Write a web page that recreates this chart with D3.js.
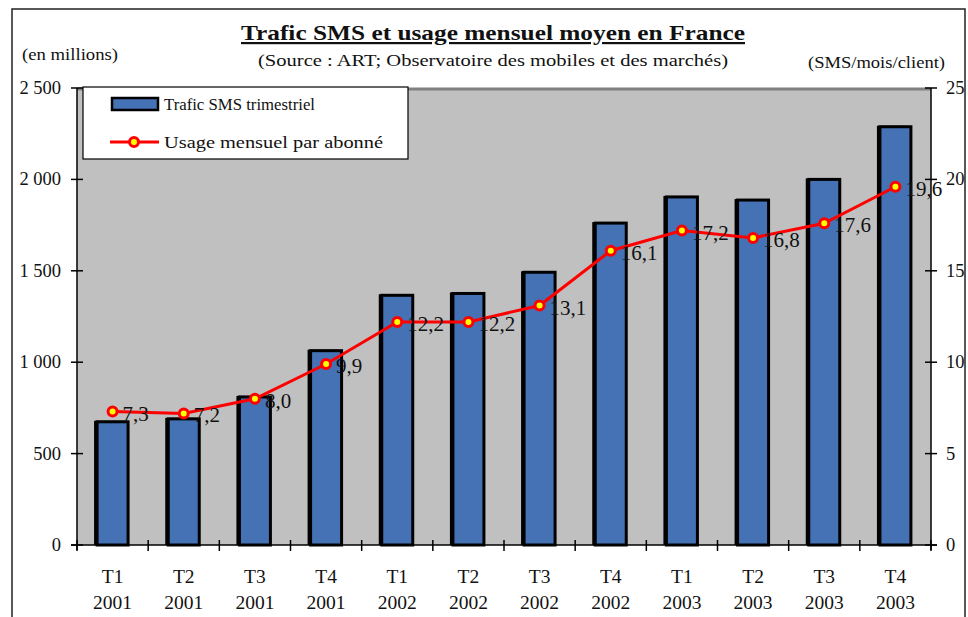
<!DOCTYPE html>
<html>
<head>
<meta charset="utf-8">
<script src="https://cdn.jsdelivr.net/npm/d3@7"></script>
<style>
  body { margin: 0; background: #fff; }
  svg text { fill: #111; }
</style>
</head>
<body>
<div id="chart"></div>
<script>
// Data
const quarters = ["T1", "T2", "T3", "T4", "T1", "T2", "T3", "T4", "T1", "T2", "T3", "T4"];
const years = ["2001", "2001", "2001", "2001", "2002", "2002", "2002", "2002", "2003", "2003", "2003", "2003"];
const smsTraffic = [674, 690, 810, 1063, 1366, 1376, 1492, 1761, 1904, 1887, 2000, 2288];
const monthlyUsage = [7.3, 7.2, 8.0, 9.9, 12.2, 12.2, 13.1, 16.1, 17.2, 16.8, 17.6, 19.6];
const leftTicks = [0, 500, 1000, 1500, 2000, 2500];
const rightTicks = [0, 5, 10, 15, 20, 25];

const W = 968, H = 617;
const plot = { left: 77, right: 931, top: 88, bottom: 545 };

const svg = d3.select("#chart").append("svg")
  .attr("width", W)
  .attr("height", H)
  .attr("font-family", "'Liberation Serif', 'Times New Roman', serif");

// outer frame (no bottom edge visible)
svg.append("path")
  .attr("d", `M12,${H} L12,9 L965,9 L965,${H}`)
  .attr("fill", "none")
  .attr("stroke", "#222")
  .attr("stroke-width", 1.5);

// Titles (stretched to the widths seen in the original)
svg.append("text")
  .attr("x", 241).attr("y", 40)
  .attr("font-size", 22).attr("font-weight", "bold")
  .attr("text-decoration", "underline")
  .attr("textLength", 504).attr("lengthAdjust", "spacingAndGlyphs")
  .text("Trafic SMS et usage mensuel moyen en France");

svg.append("text")
  .attr("x", 258).attr("y", 66)
  .attr("font-size", 17)
  .attr("textLength", 470).attr("lengthAdjust", "spacingAndGlyphs")
  .text("(Source : ART; Observatoire des mobiles et des marchés)");

svg.append("text")
  .attr("x", 22).attr("y", 60)
  .attr("font-size", 16)
  .attr("textLength", 96).attr("lengthAdjust", "spacingAndGlyphs")
  .text("(en millions)");

svg.append("text")
  .attr("x", 808).attr("y", 68)
  .attr("font-size", 16)
  .attr("textLength", 137).attr("lengthAdjust", "spacingAndGlyphs")
  .text("(SMS/mois/client)");

// Scales
const step = (plot.right - plot.left) / quarters.length;
const barW = 31;
const cx = i => plot.left + step * (i + 0.5);

const yLeft = d3.scaleLinear().domain([0, 2500]).range([plot.bottom, plot.top]);
const yRight = d3.scaleLinear().domain([0, 25]).range([plot.bottom, plot.top]);

// Plot area
svg.append("rect")
  .attr("x", plot.left).attr("y", plot.top)
  .attr("width", plot.right - plot.left)
  .attr("height", plot.bottom - plot.top)
  .attr("fill", "#c0c0c0");

svg.append("line")
  .attr("x1", plot.left).attr("x2", plot.right)
  .attr("y1", plot.top + 1).attr("y2", plot.top + 1)
  .attr("stroke", "#808080").attr("stroke-width", 3);

// Bars (with a dark shadow on the left)
svg.append("g").selectAll("rect.shadow")
  .data(smsTraffic)
  .join("rect")
  .attr("class", "shadow")
  .attr("x", (d, i) => cx(i) - barW / 2 - 3)
  .attr("y", d => yLeft(d) - 1)
  .attr("width", barW)
  .attr("height", d => plot.bottom - yLeft(d) + 1)
  .attr("fill", "#000");

svg.append("g").selectAll("rect.bar")
  .data(smsTraffic)
  .join("rect")
  .attr("class", "bar")
  .attr("x", (d, i) => cx(i) - barW / 2)
  .attr("y", d => yLeft(d))
  .attr("width", barW)
  .attr("height", d => plot.bottom - yLeft(d))
  .attr("fill", "#4472b4")
  .attr("stroke", "#000")
  .attr("stroke-width", 3);

// Axes
const axisLeft = svg.append("g");
axisLeft.append("line")
  .attr("x1", plot.left).attr("x2", plot.left)
  .attr("y1", plot.top).attr("y2", plot.bottom + 5)
  .attr("stroke", "#000").attr("stroke-width", 1.5);
axisLeft.selectAll("line.t").data(leftTicks).join("line")
  .attr("class", "t")
  .attr("x1", plot.left - 6).attr("x2", plot.left + 6)
  .attr("y1", d => yLeft(d)).attr("y2", d => yLeft(d))
  .attr("stroke", "#000").attr("stroke-width", 1.5);
axisLeft.selectAll("text").data(leftTicks).join("text")
  .attr("x", 61).attr("y", d => yLeft(d) + 6)
  .attr("text-anchor", "end")
  .attr("font-size", 18.5)
  .text(d => d3.format(",")(d).replace(",", "\u00a0"));

const axisRight = svg.append("g");
axisRight.append("line")
  .attr("x1", plot.right).attr("x2", plot.right)
  .attr("y1", plot.top).attr("y2", plot.bottom + 5)
  .attr("stroke", "#000").attr("stroke-width", 1.5);
axisRight.selectAll("line.t").data(rightTicks).join("line")
  .attr("class", "t")
  .attr("x1", plot.right - 6).attr("x2", plot.right + 6)
  .attr("y1", d => yRight(d)).attr("y2", d => yRight(d))
  .attr("stroke", "#000").attr("stroke-width", 1.5);
axisRight.selectAll("text").data(rightTicks).join("text")
  .attr("x", 946).attr("y", d => yRight(d) + 6)
  .attr("font-size", 18.5)
  .text(d => d);

const axisBottom = svg.append("g");
axisBottom.append("line")
  .attr("x1", plot.left - 6).attr("x2", plot.right + 6)
  .attr("y1", plot.bottom).attr("y2", plot.bottom)
  .attr("stroke", "#000").attr("stroke-width", 1.5);
axisBottom.selectAll("line.t").data(d3.range(quarters.length + 1)).join("line")
  .attr("class", "t")
  .attr("x1", i => plot.left + step * i).attr("x2", i => plot.left + step * i)
  .attr("y1", plot.bottom - 5).attr("y2", plot.bottom + 6)
  .attr("stroke", "#000").attr("stroke-width", 1.5);
axisBottom.selectAll("text.q").data(quarters).join("text")
  .attr("class", "q")
  .attr("x", (d, i) => cx(i)).attr("y", 583)
  .attr("text-anchor", "middle")
  .attr("font-size", 19.5)
  .text(d => d);
axisBottom.selectAll("text.yr").data(years).join("text")
  .attr("class", "yr")
  .attr("x", (d, i) => cx(i)).attr("y", 609)
  .attr("text-anchor", "middle")
  .attr("font-size", 19.5)
  .text(d => d);

// Line series
const line = d3.line()
  .x((d, i) => cx(i))
  .y(d => yRight(d));

svg.append("path")
  .datum(monthlyUsage)
  .attr("d", line)
  .attr("fill", "none")
  .attr("stroke", "#ff0000")
  .attr("stroke-width", 3);

svg.append("g").selectAll("circle")
  .data(monthlyUsage)
  .join("circle")
  .attr("cx", (d, i) => cx(i))
  .attr("cy", d => yRight(d))
  .attr("r", 4.5)
  .attr("fill", "#ffff00")
  .attr("stroke", "#ff0000")
  .attr("stroke-width", 3);

svg.append("g").selectAll("text")
  .data(monthlyUsage)
  .join("text")
  .attr("x", (d, i) => cx(i) + 10)
  .attr("y", d => yRight(d) + 9)
  .attr("font-size", 21)
  .text(d => d.toFixed(1).replace(".", ","));

// Legend
const legend = svg.append("g");
legend.append("rect")
  .attr("x", 83).attr("y", 87)
  .attr("width", 325).attr("height", 72)
  .attr("fill", "#fff")
  .attr("stroke", "#000").attr("stroke-width", 1.2);
legend.append("rect")
  .attr("x", 112).attr("y", 98)
  .attr("width", 46).attr("height", 12)
  .attr("fill", "#4472b4")
  .attr("stroke", "#000").attr("stroke-width", 2.5);
legend.append("text")
  .attr("x", 164).attr("y", 110)
  .attr("font-size", 17)
  .attr("textLength", 151).attr("lengthAdjust", "spacingAndGlyphs")
  .text("Trafic SMS trimestriel");
legend.append("line")
  .attr("x1", 110).attr("x2", 159)
  .attr("y1", 142).attr("y2", 142)
  .attr("stroke", "#ff0000").attr("stroke-width", 3);
legend.append("circle")
  .attr("cx", 134).attr("cy", 142).attr("r", 4.5)
  .attr("fill", "#ffff00")
  .attr("stroke", "#ff0000").attr("stroke-width", 3);
legend.append("text")
  .attr("x", 164).attr("y", 148)
  .attr("font-size", 17)
  .attr("textLength", 219).attr("lengthAdjust", "spacingAndGlyphs")
  .text("Usage mensuel par abonné");
</script>
</body>
</html>
